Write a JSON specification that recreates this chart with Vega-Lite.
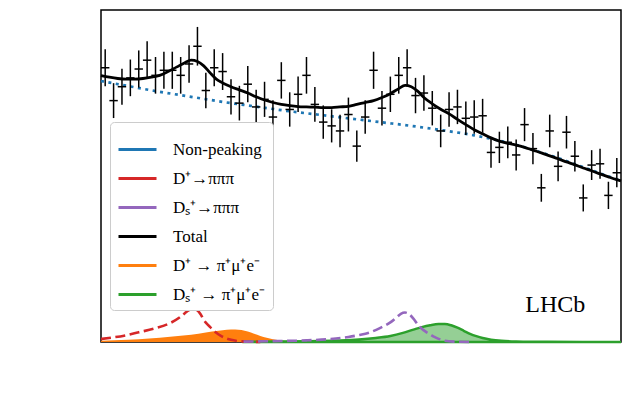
{
  "$schema": "https://vega.github.io/schema/vega-lite/v6.json",
  "width": 520,
  "height": 332,
  "autosize": {"type": "none"},
  "padding": {"left": 101, "top": 10, "right": 20, "bottom": 77},
  "background": "white",
  "config": {
    "font": "Liberation Serif",
    "view": {"stroke": "black", "strokeWidth": 1.5},
    "axis": {"domainColor": "black", "domainWidth": 1.5, "tickColor": "black", "tickWidth": 1.3, "labelColor": "black", "titleColor": "black", "grid": false, "labelFontSize": 20, "titleFontWeight": "normal", "labelFont": "Liberation Serif", "titleFont": "Liberation Serif", "labelOverlap": false, "labelFlush": false}
  },
  "datasets": {
    "pts": [
      {"m":1804,"v":217,"e":14.7},{"m":1808,"v":191,"e":13.8},{"m":1812,"v":202,"e":14.2},{"m":1816,"v":209,"e":14.5},
      {"m":1820,"v":216,"e":14.7},{"m":1824,"v":223,"e":14.9},{"m":1828,"v":211,"e":14.5},{"m":1832,"v":215,"e":14.7},
      {"m":1836,"v":215,"e":14.7},{"m":1840,"v":211,"e":14.5},{"m":1844,"v":220,"e":14.8},{"m":1848,"v":234,"e":15.3},
      {"m":1852,"v":199,"e":14.1},{"m":1856,"v":217,"e":14.7},{"m":1860,"v":214,"e":14.6},{"m":1864,"v":194,"e":13.9},
      {"m":1868,"v":189,"e":13.7},{"m":1872,"v":204,"e":14.3},{"m":1876,"v":186,"e":13.6},{"m":1880,"v":192,"e":13.9},
      {"m":1884,"v":178,"e":13.3},{"m":1888,"v":207,"e":14.4},{"m":1892,"v":184,"e":13.6},{"m":1896,"v":196,"e":14.0},
      {"m":1900,"v":211,"e":14.5},{"m":1904,"v":188,"e":13.7},{"m":1908,"v":174,"e":13.2},{"m":1912,"v":171,"e":13.1},
      {"m":1916,"v":167,"e":12.9},{"m":1920,"v":180,"e":13.4},{"m":1924,"v":155,"e":12.4},{"m":1928,"v":178,"e":13.3},
      {"m":1932,"v":215,"e":14.7},{"m":1936,"v":185,"e":13.6},{"m":1940,"v":196,"e":14.0},{"m":1944,"v":211,"e":14.5},
      {"m":1948,"v":217,"e":14.7},{"m":1952,"v":195,"e":14.0},{"m":1956,"v":197,"e":14.0},{"m":1960,"v":185,"e":13.6},
      {"m":1964,"v":167,"e":12.9},{"m":1968,"v":184,"e":13.6},{"m":1972,"v":186,"e":13.6},{"m":1976,"v":177,"e":13.3},
      {"m":1980,"v":178,"e":13.3},{"m":1984,"v":179,"e":13.4},{"m":1988,"v":150,"e":12.2},{"m":1992,"v":154,"e":12.4},
      {"m":1996,"v":158,"e":12.6},{"m":2000,"v":148,"e":12.2},{"m":2004,"v":172,"e":13.1},{"m":2008,"v":153,"e":12.4},
      {"m":2012,"v":122,"e":11.0},{"m":2016,"v":167,"e":12.9},{"m":2020,"v":139,"e":11.8},{"m":2024,"v":166,"e":12.9},
      {"m":2028,"v":147,"e":12.1},{"m":2032,"v":114,"e":10.7},{"m":2036,"v":140,"e":11.8},{"m":2040,"v":141,"e":11.9},
      {"m":2044,"v":116,"e":10.8},{"m":2048,"v":134,"e":11.6}
    ],
    "B": [
      {"m":1802,"v":206.5},{"m":1815,"v":202.5},{"m":1830,"v":198},{"m":1845,"v":194},{"m":1860,"v":190},{"m":1875,"v":186.5},
      {"m":1890,"v":183},{"m":1905,"v":180},{"m":1920,"v":177},{"m":1935,"v":174},{"m":1950,"v":171},{"m":1965,"v":167.5},
      {"m":1980,"v":163.5},{"m":1990,"v":160},{"m":2000,"v":156},{"m":2010,"v":151},{"m":2020,"v":145.5},{"m":2030,"v":139.5},
      {"m":2040,"v":133.5},{"m":2050,"v":127.5}
    ],
    "R": [
      {"m":1802,"v":2.4},{"m":1808,"v":3.7},{"m":1813,"v":5},{"m":1820,"v":7.7},{"m":1828,"v":10.9},{"m":1835,"v":15},
      {"m":1840,"v":20},{"m":1842,"v":22.8},{"m":1844,"v":25.2},{"m":1846,"v":26.3},{"m":1847.5,"v":25.6},{"m":1849.5,"v":22},
      {"m":1851,"v":17.5},{"m":1853,"v":13.5},{"m":1855,"v":10.4},{"m":1857,"v":7.3},{"m":1859,"v":5},{"m":1861.5,"v":3},
      {"m":1864,"v":1.7},{"m":1867,"v":0.8},{"m":1871,"v":0.3},{"m":1878,"v":0.05}
    ],
    "P": [
      {"m":1870,"v":0.3},{"m":1885,"v":0.7},{"m":1900,"v":1.3},{"m":1910,"v":2.2},{"m":1920,"v":4},{"m":1925,"v":5.5},
      {"m":1930,"v":7.5},{"m":1935,"v":11},{"m":1940,"v":15.5},{"m":1943,"v":19.5},{"m":1945,"v":22.3},{"m":1947,"v":23.3},
      {"m":1949,"v":22},{"m":1951,"v":18.5},{"m":1953,"v":14},{"m":1955,"v":10.5},{"m":1957,"v":8},{"m":1959,"v":6},
      {"m":1961,"v":4},{"m":1963,"v":2.5},{"m":1966,"v":1},{"m":1970,"v":0.3},{"m":1978,"v":0.05}
    ],
    "O": [
      {"m":1802,"v":0.9},{"m":1815,"v":1.8},{"m":1825,"v":2.8},{"m":1835,"v":4.2},{"m":1845,"v":5.8},{"m":1852,"v":7.6},
      {"m":1858,"v":8.9},{"m":1862,"v":9.6},{"m":1866,"v":9.9},{"m":1869,"v":9.5},{"m":1872,"v":8.3},{"m":1875,"v":6.5},
      {"m":1878,"v":4.8},{"m":1881,"v":3.3},{"m":1884,"v":2.1},{"m":1887,"v":1.3},{"m":1891,"v":0.6},{"m":1896,"v":0.3},
      {"m":1905,"v":0.1},{"m":1915,"v":0}
    ],
    "G": [
      {"m":1870,"v":0.1},{"m":1885,"v":0.3},{"m":1900,"v":0.6},{"m":1915,"v":1.2},{"m":1925,"v":2},{"m":1933,"v":3.2},
      {"m":1940,"v":4.8},{"m":1946,"v":7.2},{"m":1951,"v":9.8},{"m":1955,"v":11.8},{"m":1959,"v":13.3},{"m":1963,"v":14.2},
      {"m":1966,"v":14.2},{"m":1969,"v":13.2},{"m":1972,"v":11.3},{"m":1975,"v":8.9},{"m":1978,"v":6.5},{"m":1981,"v":4.6},
      {"m":1984,"v":3.1},{"m":1988,"v":1.8},{"m":1993,"v":0.9},{"m":2000,"v":0.4},{"m":2015,"v":0.1},{"m":2050,"v":0}
    ],
    "T": [
      {"m":1802,"v":210.8},{"m":1806,"v":209.5},{"m":1810,"v":208.5},{"m":1814,"v":208},{"m":1818,"v":208},{"m":1822,"v":208.5},
      {"m":1826,"v":209.5},{"m":1830,"v":211},{"m":1834,"v":214},{"m":1838,"v":217.5},{"m":1842,"v":221},{"m":1845,"v":223},
      {"m":1848,"v":222},{"m":1851,"v":218.5},{"m":1854,"v":213},{"m":1857,"v":208},{"m":1860,"v":205},{"m":1864,"v":202},
      {"m":1868,"v":199.5},{"m":1872,"v":197},{"m":1876,"v":194},{"m":1880,"v":191.5},{"m":1884,"v":189.5},{"m":1888,"v":188},
      {"m":1892,"v":187},{"m":1896,"v":186.3},{"m":1900,"v":186},{"m":1904,"v":185.8},{"m":1908,"v":185.5},{"m":1912,"v":185.5},
      {"m":1916,"v":186},{"m":1920,"v":186.5},{"m":1924,"v":188},{"m":1928,"v":189.5},{"m":1932,"v":191},{"m":1936,"v":193.5},
      {"m":1940,"v":196.5},{"m":1944,"v":200.5},{"m":1947,"v":203},{"m":1950,"v":202},{"m":1953,"v":198.5},{"m":1956,"v":193.5},
      {"m":1960,"v":188.5},{"m":1964,"v":184.2},{"m":1968,"v":180.5},{"m":1972,"v":176.2},{"m":1976,"v":172},{"m":1980,"v":168},
      {"m":1984,"v":164.7},{"m":1988,"v":161.5},{"m":1992,"v":159},{"m":1996,"v":157.2},{"m":2000,"v":155.8},{"m":2004,"v":154},
      {"m":2008,"v":151.8},{"m":2012,"v":149.7},{"m":2016,"v":147.3},{"m":2020,"v":145},{"m":2024,"v":142.5},{"m":2028,"v":140.2},
      {"m":2032,"v":137.7},{"m":2036,"v":135.5},{"m":2040,"v":133},{"m":2044,"v":130.7},{"m":2048,"v":128.5},{"m":2050,"v":127.5}
    ]
  },
  "layer": [
    {
      "data": {"name": "O"},
      "mark": {"type": "area", "interpolate": "monotone", "fill": "#ff7f0e", "opacity": 1},
      "encoding": {
        "x": {
          "field": "m", "type": "quantitative", "title": "m (π⁺μ⁺e⁻) [MeV]",
          "scale": {"domain": [1802, 2050], "nice": false, "zero": false},
          "axis": {
            "values": [1810,1820,1830,1840,1850,1860,1870,1880,1890,1900,1910,1920,1930,1940,1950,1960,1970,1980,1990,2000,2010,2020,2030,2040,2050],
            "format": "d",
            "labelExpr": "datum.value % 50 === 0 ? datum.label : ''",
            "tickSize": {"condition": {"test": "datum.value % 50 === 0", "value": 12}, "value": 7},
            "labelPadding": 6, "labelFlush": false, "labelOverlap": false,
            "titleFontSize": 27, "titleAnchor": "end", "titleAlign": "right",
            "titleX": 516, "titleY": 58, "titleBaseline": "alphabetic"
          }
        },
        "y": {
          "field": "v", "type": "quantitative", "title": "Candidates/(4 MeV)",
          "scale": {"domain": [0, 262.7], "nice": false},
          "axis": {
            "values": [0,10,20,30,40,50,60,70,80,90,100,110,120,130,140,150,160,170,180,190,200,210,220,230,240,250,260],
            "format": "d",
            "labelExpr": "datum.value % 50 === 0 ? datum.label : ''",
            "tickSize": {"condition": {"test": "datum.value % 50 === 0", "value": 12}, "value": 7},
            "labelPadding": 6, "labelFlush": false, "labelOverlap": false,
            "titleFontSize": 31, "titleAngle": -90, "titleAlign": "center",
            "titleBaseline": "middle", "titleX": -70, "titleY": 154
          }
        }
      }
    },
    {
      "data": {"name": "G"},
      "mark": {"type": "area", "interpolate": "monotone", "fill": "#2ca02c", "fillOpacity": 0.5, "stroke": "#2ca02c", "strokeWidth": 2.5},
      "encoding": {"x": {"field": "m", "type": "quantitative", "axis": null}, "y": {"field": "v", "type": "quantitative", "axis": null}}
    },
    {
      "data": {"name": "R"},
      "mark": {"type": "line", "interpolate": "monotone", "stroke": "#d62728", "strokeWidth": 2.6, "strokeDash": [10, 4.5]},
      "encoding": {"x": {"field": "m", "type": "quantitative", "axis": null}, "y": {"field": "v", "type": "quantitative", "axis": null}}
    },
    {
      "data": {"name": "P"},
      "mark": {"type": "line", "interpolate": "monotone", "stroke": "#9467bd", "strokeWidth": 2.6, "strokeDash": [10, 4.5]},
      "encoding": {"x": {"field": "m", "type": "quantitative", "axis": null}, "y": {"field": "v", "type": "quantitative", "axis": null}}
    },
    {
      "data": {"name": "B"},
      "mark": {"type": "line", "interpolate": "monotone", "stroke": "#1f77b4", "strokeWidth": 2.7, "strokeDash": [3, 4.5]},
      "encoding": {"x": {"field": "m", "type": "quantitative", "axis": null}, "y": {"field": "v", "type": "quantitative", "axis": null}}
    },
    {
      "data": {"name": "T"},
      "mark": {"type": "line", "interpolate": "monotone", "strokeWidth": 2.8},
      "encoding": {
        "x": {"field": "m", "type": "quantitative", "axis": null},
        "y": {"field": "v", "type": "quantitative", "axis": null},
        "color": {
          "datum": "Total", "type": "nominal",
          "scale": {
            "domain": ["Non-peaking", "D⁺→πππ", "Dₛ⁺→πππ", "Total", "D⁺ → π⁺μ⁺e⁻", "Dₛ⁺ → π⁺μ⁺e⁻"],
            "range": ["#1f77b4", "#d62728", "#9467bd", "#000000", "#ff7f0e", "#2ca02c"]
          },
          "legend": {
            "title": null, "orient": "none", "legendX": 9, "legendY": 112,
            "symbolType": "stroke", "symbolSize": 1444, "symbolStrokeWidth": 3, "symbolOffset": 0,
            "labelFontSize": 17, "labelFont": "Liberation Serif", "labelColor": "black", "labelOffset": 15, "labelLimit": 300,
            "rowPadding": -7, "padding": 7, "fillColor": "white", "strokeColor": "#cccccc", "cornerRadius": 4
          }
        }
      }
    },
    {
      "data": {"name": "pts"},
      "mark": {"type": "errorbar", "color": "black", "thickness": 1.5},
      "encoding": {"x": {"field": "m", "type": "quantitative", "axis": null}, "y": {"field": "v", "type": "quantitative", "axis": null}, "yError": {"field": "e"}}
    },
    {
      "data": {"name": "pts"},
      "mark": {"type": "tick", "orient": "horizontal", "size": 8.4, "thickness": 1.5, "color": "black", "opacity": 1},
      "encoding": {"x": {"field": "m", "type": "quantitative", "axis": null}, "y": {"field": "v", "type": "quantitative", "axis": null}}
    },
    {
      "data": {"values": [{"a": 1}]},
      "mark": {"type": "text", "text": "LHCb", "align": "right", "baseline": "alphabetic", "fontSize": 24, "font": "Liberation Serif", "fill": "black"},
      "encoding": {"x": {"datum": 2033, "axis": null}, "y": {"datum": 23.6, "axis": null}}
    }
  ]
}
